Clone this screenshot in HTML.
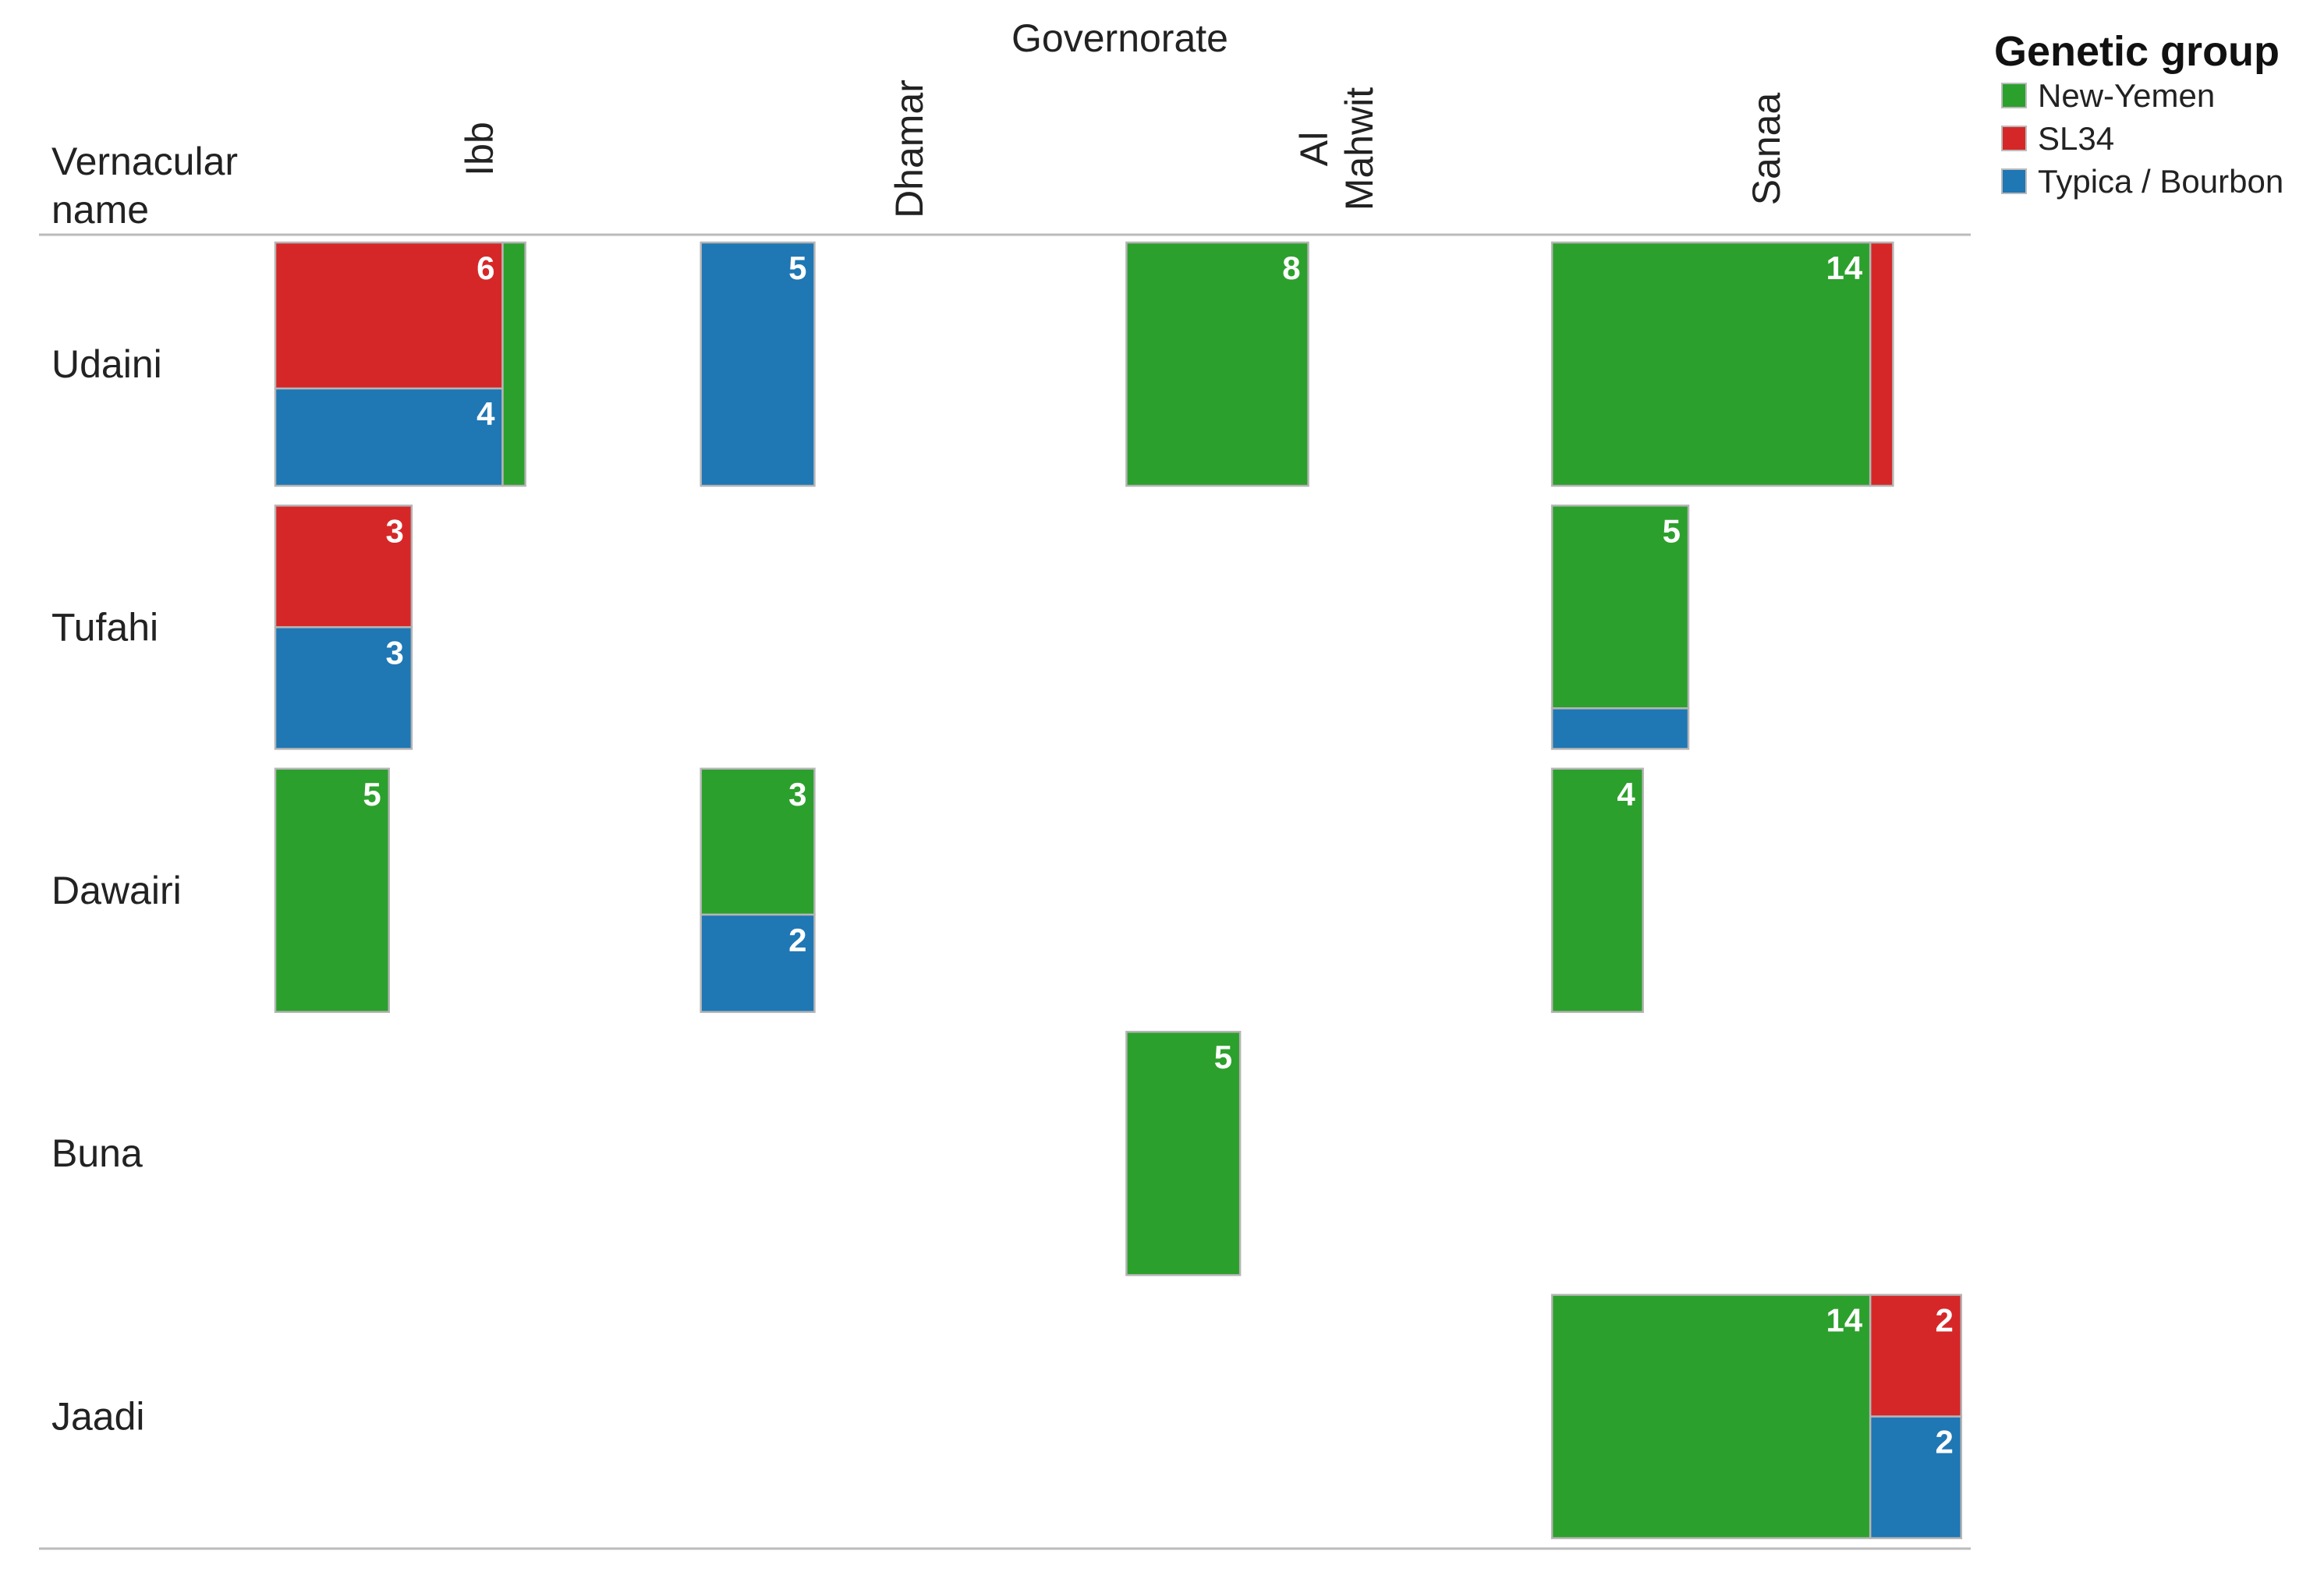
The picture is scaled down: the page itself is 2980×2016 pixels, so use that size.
<!DOCTYPE html>
<html><head><meta charset="utf-8"><style>
html,body{margin:0;padding:0;background:#fff;}
svg{display:block;font-family:"Liberation Sans",Arial,sans-serif;}
</style></head><body>
<svg id="chart" width="2980" height="2016" viewBox="0 0 2980 2016" xmlns="http://www.w3.org/2000/svg">
<g id="header">
<text x="1436" y="66" font-size="50" text-anchor="middle" fill="#222">Governorate</text>
<text x="66" y="224" font-size="50" fill="#222">Vernacular</text>
<text x="66" y="286" font-size="50" fill="#222">name</text>
<line x1="50" y1="301" x2="2527" y2="301" stroke="#bbb" stroke-width="3"/>
<line x1="50" y1="1986" x2="2527" y2="1986" stroke="#bbb" stroke-width="3"/>
</g>
<g id="legend">
<text x="2557" y="84" font-size="54" font-weight="bold" fill="#111">Genetic group</text>
</g>
<g id="marks"></g>
</svg>
<script>
const rowNames = ["Udaini","Tufahi","Dawairi","Buna","Jaadi"];
const govNames = ["Ibb","Dhamar","Al Mahwit","Sanaa"];
const groupNames = ["New-Yemen","SL34","Typica / Bourbon"];
const groupColors = ["#2ca02c","#d62728","#1f77b4"];
// each cell: row index, gov index, layout = columns of [groupIndex, count]
const cellRow = [0,0,0,0,1,1,2,2,2,3,4];
const cellGov = [0,1,2,3,0,3,0,1,3,2,3];
const cellLayout = [
  [[[1,6],[2,4]],[[0,1]]],
  [[[2,5]]],
  [[[0,8]]],
  [[[0,14]],[[1,1]]],
  [[[1,3],[2,3]]],
  [[[0,5],[2,1]]],
  [[[0,5]]],
  [[[0,3],[2,2]]],
  [[[0,4]]],
  [[[0,5]]],
  [[[0,14]],[[1,2],[2,2]]]
];

const NS="http://www.w3.org/2000/svg";
const svg=document.getElementById('chart');
const marks=document.getElementById('marks');
const header=document.getElementById('header');
const legend=document.getElementById('legend');
const colX0=353, colPitch=545.7, rowY0=311, rowPitch=337.4, cellH=312, unitW=29.15;
const xCol=i=>colX0+i*colPitch;
const yRow=i=>rowY0+i*rowPitch;
function mk(tag,attrs,parent){const e=document.createElementNS(NS,tag);for(const k in attrs)e.setAttribute(k,attrs[k]);parent.appendChild(e);return e;}

const govLabelX=[615,1166,1714,2265];
govNames.forEach((g,i)=>{
  const lines=g==="Al Mahwit"?["Al","Mahwit"]:[g];
  const t=mk('text',{x:0,y:0,'font-size':50,'text-anchor':'middle',fill:'#222',transform:`translate(${govLabelX[i]},191) rotate(-90)`},header);
  
  
  lines.forEach((ln,j)=>{const ts=mk('tspan',{x:0,dy:j===0?(lines.length>1?-12:17):58},t);ts.textContent=ln;});
});
rowNames.forEach((r,i)=>{
  const t=mk('text',{x:66,y:yRow(i)+cellH/2+17,'font-size':50,fill:'#222'},header);
  
  
  t.textContent=r;
});
groupNames.forEach((g,i)=>{
  const cy=122+i*55;
  const r=mk('rect',{x:2567,y:cy-15,width:31,height:31,fill:groupColors[i],stroke:'#bbb','stroke-width':2},legend);
  
  
  const t=mk('text',{x:2613,y:cy+15,'font-size':42,fill:'#222'},legend);
  
  
  t.textContent=g;
});
cellLayout.forEach((cols,c)=>{
  let x=xCol(cellGov[c]);
  const y0=yRow(cellRow[c]);
  cols.forEach(col=>{
    const tot=col.reduce((s,d)=>s+d[1],0);
    const w=tot*unitW;
    let y=y0;
    col.forEach(d=>{
      const h=cellH*d[1]/tot;
      const r=mk('rect',{x:x,y:y,width:w,height:h,fill:groupColors[d[0]],stroke:'#b5b5b5','stroke-width':2.5},marks);
      
      
      if(d[1]>=2){
        const t=mk('text',{x:x+w-10,y:y+47,'font-size':42,'font-weight':'bold','text-anchor':'end',fill:'#fff','font-family':'"Liberation Sans Narrow","Liberation Sans",sans-serif'},marks);
        
        
        t.textContent=d[1];
      }
      y+=h;
    });
    x+=w;
  });
});
</script>
</body></html>
